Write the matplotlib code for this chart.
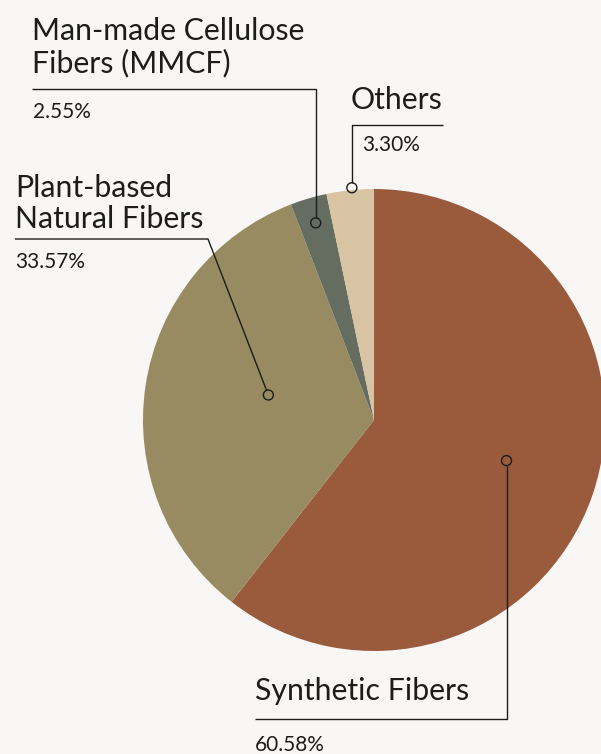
import numpy as np
import matplotlib.pyplot as plt

labels = ["Synthetic Fibers", "Plant-based\nNatural Fibers", "Man-made Cellulose\nFibers (MMCF)", "Others"]
values = [60.58, 33.57, 2.55, 3.30]
colors = ["#9a5b3d", "#988a61", "#646d5f", "#d8c4a3"]

W, H = 601, 754
BG = "#f8f7f5"
INK = "#1c1c1c"
plt.rcParams['font.family'] = ['Lato', 'DejaVu Sans']

fig = plt.figure(figsize=(W / 100, H / 100), dpi=100, facecolor=BG)
ax = fig.add_axes([0, 0, 1, 1])

cx, cy, R = 374, H - 420, 231
wedges, _ = ax.pie(values, colors=colors, startangle=90, counterclock=False,
                   center=(cx, cy), radius=R, frame=True,
                   wedgeprops=dict(linewidth=0))
ax.set_xlim(0, W)
ax.set_ylim(0, H)
ax.set_aspect('equal')
ax.axis('off')

def py(y):
    return H - y

# marker dot: radial fraction and angle tweak (deg) from wedge middle
dot_r = [0.6, 0.47, 0.89, 1.01]
dot_da = [2.0, -4.8, 0.0, -0.5]
# leader elbows, pixel coords (top-left origin)
paths = [
    [(255, 719), (507, 719)],
    [(15, 239), (208, 239)],
    [(32, 89), (314, 89)],
    [(443, 125), (352, 125)],
]
text_pos = [(255, 700, 751), (15, 228, 268), (32, 72, 118), (351, 109, 151)]
pct_x = [255, 15, 33, 362]
dot_rad = 5.0

for i, w in enumerate(wedges):
    mid = np.deg2rad((w.theta1 + w.theta2) / 2 + dot_da[i])
    dx = cx + dot_r[i] * R * np.cos(mid)
    dy = cy + dot_r[i] * R * np.sin(mid)
    pts = [(x, py(y)) for x, y in paths[i]]
    if i == 1:
        # diagonal leg, stop at the circle edge
        ex, ey = pts[-1]
        vx, vy = dx - ex, dy - ey
        d = np.hypot(vx, vy)
        pts.append((dx - vx / d * dot_rad, dy - vy / d * dot_rad))
    else:
        pts[-1] = (dx, pts[-1][1])
        sgn = 1 if pts[-1][1] > dy else -1
        pts.append((dx, dy + sgn * dot_rad))
    xs, ys = zip(*pts)
    ax.plot(xs, ys, color=INK, lw=1.0, zorder=3, solid_capstyle='butt')
    ax.add_patch(plt.Circle((dx, dy), dot_rad, fill=False, ec=INK, lw=1.0, zorder=4))

    x0, base_name, base_pct = text_pos[i]
    ax.text(x0, py(base_name), labels[i], ha='left', va='baseline',
            fontsize=21.8, color=INK, linespacing=1.15)
    ax.text(pct_x[i], py(base_pct), f"{values[i]:.2f}%", ha='left', va='baseline',
            fontsize=15, color=INK)

fig.savefig("out.png", dpi=100, facecolor=BG)
